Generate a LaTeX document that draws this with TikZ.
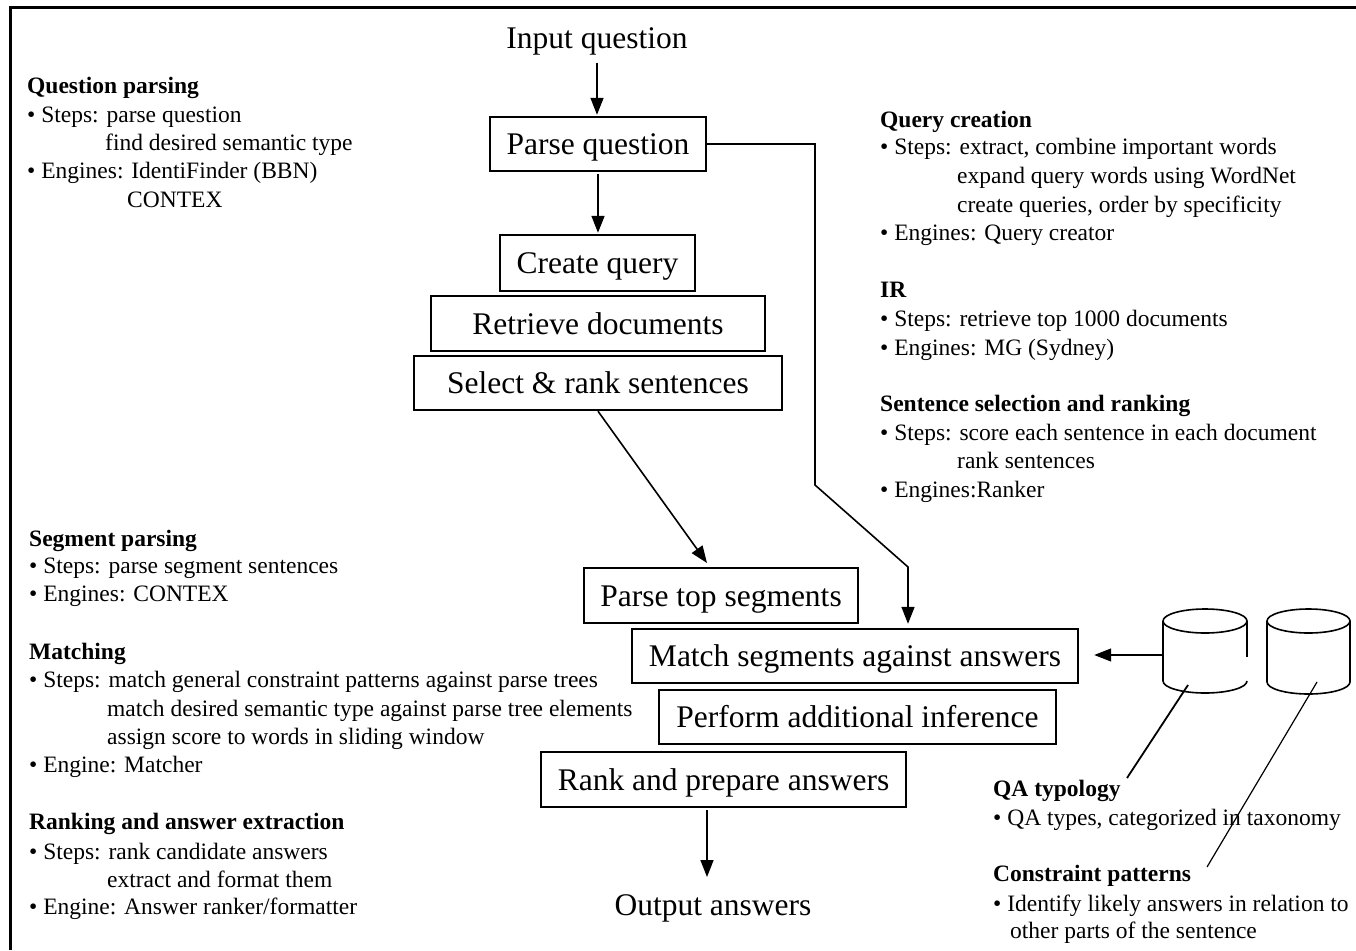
\documentclass[tikz,border=0pt]{standalone}
\usepackage{fontspec}
\setmainfont{Liberation Serif}
\usetikzlibrary{arrows.meta,calc}
\newcommand\txtline[4]{\node[side] (#1) at (#2,#3) {#4};}
\begin{document}
\begin{tikzpicture}[x=1pt,y=-1pt,
 box/.style={draw,line width=2.4pt,font=\fontsize{31.5}{36}\selectfont,inner sep=0,anchor=center,text height=25pt,text depth=4pt},
 big/.style={font=\fontsize{31.5}{36}\selectfont,inner sep=0,text height=25pt,text depth=4pt},
 side/.style={font=\fontsize{23.5}{28}\selectfont,inner sep=0,anchor=base west},
 arr/.style={line width=1.6pt,-{Triangle[length=17pt,width=13pt]}},
 conn/.style={line width=1.6pt},
 leader/.style={line width=1.2pt}]
\useasboundingbox (0,0) rectangle (1356,950);
% frame
\draw[line width=3pt] (10,950) -- (10,8) -- (1356,8);

% main flow
\node[big] (inq) at (597,38) {Input question};
\node[box,minimum width=216pt,minimum height=54pt] (pq) at (598,144) {Parse question};
\node[box,minimum width=195pt,minimum height=56pt] (cq) at (597.5,263) {Create query};
\node[box,minimum width=334pt,minimum height=55pt] (rd) at (598,323.5) {Retrieve documents};
\node[box,minimum width=368pt,minimum height=54pt] (sr) at (598,383) {Select \& rank sentences};
\node[box,minimum width=274pt,minimum height=55pt] (pts) at (721,595.5) {Parse top segments};
\node[box,minimum width=446pt,minimum height=54pt] (mse) at (855,656) {Match segments against answers};
\node[box,minimum width=397pt,minimum height=54pt] (pai) at (857.5,717) {Perform additional inference};
\node[box,minimum width=365pt,minimum height=55pt] (rpa) at (723.5,779.5) {Rank and prepare answers};
\node[big] (out) at (713,905) {Output answers};

\draw[arr,shorten <=10pt,shorten >=1pt] (inq.south) -- (inq.south |- pq.north);
\draw[arr,shorten <=2pt,shorten >=1pt] (pq.south) -- (pq.south |- cq.north);
\coordinate (k3) at (707,563);
\draw[arr] (sr.south) -- (k3);
\coordinate (k1) at (815,485);
\coordinate (k2) at (908,567);
\draw[arr,shorten >=4pt] (pq.east) -| (k1) -- (k2) -- (k2 |- mse.north);
\coordinate (ar) at (707,877);
\draw[arr,shorten <=2pt] (ar |- rpa.south) -- (ar);

% cylinders
\coordinate (c1) at (1205,621);
\coordinate (c2) at (1308.5,621);
\draw[conn] (c1) ellipse [x radius=42pt, y radius=12pt];
\draw[conn] (1163,621) -- (1163,681) arc[start angle=180,end angle=360,x radius=42pt,y radius=12pt];
\draw[conn] (1247,621) -- (1247,657);
\draw[conn] (c2) ellipse [x radius=41.5pt, y radius=12pt];
\draw[conn] (1267,621) -- (1267,682) arc[start angle=180,end angle=360,x radius=41.5pt,y radius=12pt] -- (1350,621);
\coordinate (c1w) at (1163,655);
\draw[arr,line width=1.2pt,shorten >=15pt] (c1w) -- (c1w -| mse.east);
\coordinate (l1a) at (1188,685);
\coordinate (l1b) at (1127,778);
\coordinate (l2a) at (1317,682);
\coordinate (l2b) at (1207,867);
\draw[line width=1.8pt] (l1a) -- (l1b);
\draw[leader] (l2a) -- (l2b);

% left text blocks
\txtline{qp0}{27}{93}{\textbf{Question parsing}}
\txtline{qp1}{27}{122}{• Steps: parse question}
\txtline{qp2}{105}{150}{find desired semantic type}
\txtline{qp3}{27}{178}{• Engines: IdentiFinder (BBN)}
\txtline{qp4}{127}{207}{CONTEX}

\txtline{sp0}{29}{546}{\textbf{Segment parsing}}
\txtline{sp1}{29}{573}{• Steps: parse segment sentences}
\txtline{sp2}{29}{601}{• Engines: CONTEX}

\txtline{ma0}{29}{659}{\textbf{Matching}}
\txtline{ma1}{29}{687}{• Steps: match general constraint patterns against parse trees}
\txtline{ma2}{107}{716}{match desired semantic type against parse tree elements}
\txtline{ma3}{107}{744}{assign score to words in sliding window}
\txtline{ma4}{29}{772}{• Engine: Matcher}

\txtline{ra0}{29}{829}{\textbf{Ranking and answer extraction}}
\txtline{ra1}{29}{859}{• Steps: rank candidate answers}
\txtline{ra2}{107}{887}{extract and format them}
\txtline{ra3}{29}{914}{• Engine: Answer ranker/formatter}

% right text blocks
\txtline{qc0}{880}{127}{\textbf{Query creation}}
\txtline{qc1}{880}{154}{• Steps: extract, combine important words}
\txtline{qc2}{957}{183}{expand query words using WordNet}
\txtline{qc3}{957}{212}{create queries, order by specificity}
\txtline{qc4}{880}{240}{• Engines: Query creator}

\txtline{ir0}{880}{297}{\textbf{IR}}
\txtline{ir1}{880}{326}{• Steps: retrieve top 1000 documents}
\txtline{ir2}{880}{355}{• Engines: MG (Sydney)}

\txtline{ss0}{880}{411}{\textbf{Sentence selection and ranking}}
\txtline{ss1}{880}{440}{• Steps: score each sentence in each document}
\txtline{ss2}{957}{468}{rank sentences}
\txtline{ss3}{880}{497}{• Engines:Ranker}

\txtline{qa0}{993}{796}{\textbf{QA typology}}
\txtline{qa1}{993}{825}{• QA types, categorized in taxonomy}
\txtline{cp0}{993}{881}{\textbf{Constraint patterns}}
\txtline{cp1}{993}{911}{• Identify likely answers in relation to}
\txtline{cp2}{1010}{938}{other parts of the sentence}
\end{tikzpicture}
\end{document}
